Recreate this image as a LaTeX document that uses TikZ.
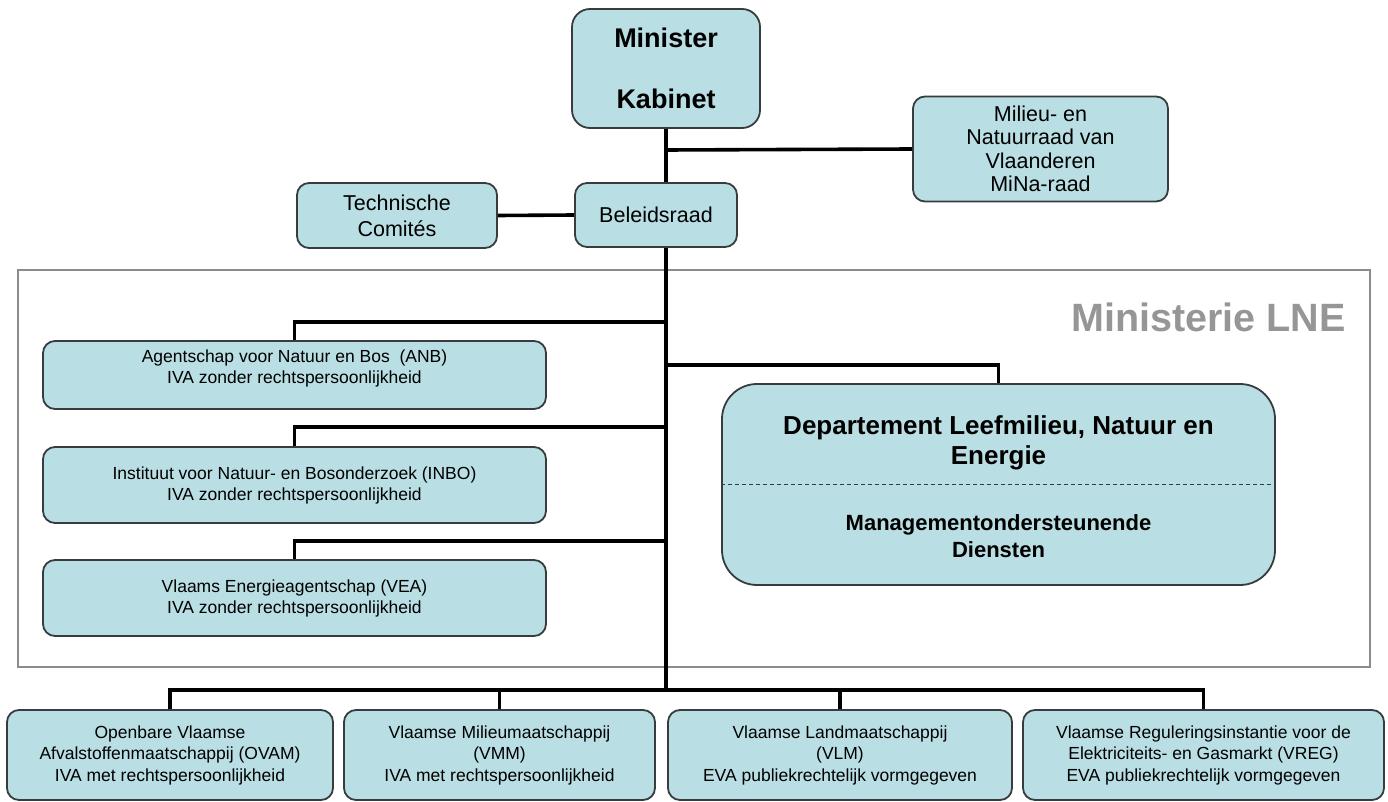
\documentclass[tikz,border=0pt]{standalone}
\usepackage{fontspec}
\setmainfont{Liberation Sans}
\definecolor{boxfill}{RGB}{185,222,227}
\definecolor{boxline}{RGB}{55,60,62}
\definecolor{framegray}{RGB}{140,140,140}
\definecolor{titlegray}{RGB}{150,150,150}
\tikzset{
  box/.style={draw=boxline, line width=1.8pt, fill=boxfill, rounded corners=12pt, inner sep=0pt, align=center},
  conn/.style={line width=3.6pt, black},
  small/.style={font=\fontsize{17.5}{21}\selectfont},
  bottomtxt/.style={font=\fontsize{17.5}{21.5}\selectfont},
  mid/.style={font=\fontsize{21.5}{26}\selectfont},
  plain/.style={align=center, inner sep=0pt}
}
\begin{document}
\begin{tikzpicture}[x=1pt,y=-1pt]
\useasboundingbox (0,0) rectangle (1388,802);
% frame
\draw[framegray, line width=2.4pt] (18,270) rectangle (1370,667);
\node[anchor=east, text=titlegray, font=\bfseries\fontsize{39.5}{42}\selectfont, inner sep=0pt] (title) at (1346,317) {Ministerie LNE};

% top
\node[box, rounded corners=18pt, minimum width=188pt, minimum height=119pt, font=\bfseries\fontsize{27}{31}\selectfont] (min) at (666,68.5) {Minister\\[30pt]Kabinet};
\node[box, minimum width=162pt, minimum height=64pt, mid] (bel) at (656,215) {Beleidsraad};
\node[box, minimum width=200pt, minimum height=65pt, mid] (tech) at (397,215.5) {Technische\\Comités};
\node[box, minimum width=255pt, minimum height=105pt, font=\fontsize{21.5}{23.5}\selectfont] (mina) at (1040.5,149) {Milieu- en\\Natuurraad van\\Vlaanderen\\MiNa-raad};

% agencies
\node[box, minimum width=503pt, minimum height=68pt] (anb) at (294.5,375) {};
\node[plain, small] (anbt) at (294.5,368) {Agentschap voor Natuur en Bos\ \ (ANB)\\IVA zonder rechtspersoonlijkheid};
\node[box, minimum width=503pt, minimum height=76pt, small] (inbo) at (294.5,485) {Instituut voor Natuur- en Bosonderzoek (INBO)\\IVA zonder rechtspersoonlijkheid};
\node[box, minimum width=503pt, minimum height=76pt, small] (vea) at (294.5,598) {Vlaams Energieagentschap (VEA)\\IVA zonder rechtspersoonlijkheid};

% department
\node[box, rounded corners=35pt, minimum width=553pt, minimum height=201pt] (dept) at (998.5,484.5) {};
\draw[boxline, line width=1.5pt, dash pattern=on 4pt off 3pt] (dept.west) -- (dept.east);
\node[plain, font=\bfseries\fontsize{26}{30}\selectfont] (depttop) at (998.5,443) {Departement Leefmilieu, Natuur en\\Energie};
\node[plain, font=\bfseries\fontsize{22}{27}\selectfont] (deptbot) at (998.5,536) {Managementondersteunende\\Diensten};

% bottom
\node[box, minimum width=326pt, minimum height=90pt, bottomtxt] (b1) at (170,755) {Openbare Vlaamse\\Afvalstoffenmaatschappij (OVAM)\\IVA met rechtspersoonlijkheid};
\node[box, minimum width=311pt, minimum height=90pt, bottomtxt] (b2) at (499.5,755) {Vlaamse Milieumaatschappij\\(VMM)\\IVA met rechtspersoonlijkheid};
\node[box, minimum width=344pt, minimum height=90pt, bottomtxt] (b3) at (840,755) {Vlaamse Landmaatschappij\\(VLM)\\EVA publiekrechtelijk vormgegeven};
\node[box, minimum width=361pt, minimum height=90pt, bottomtxt] (b4) at (1203.5,755) {Vlaamse Reguleringsinstantie voor de\\Elektriciteits- en Gasmarkt (VREG)\\EVA publiekrechtelijk vormgegeven};

% junctions
\coordinate (jmina) at (666,150);
\coordinate (janb) at (666,322);
\coordinate (jdept) at (666,365);
\coordinate (jinbo) at (666,427);
\coordinate (jvea) at (666,541);
\coordinate (bus) at (666,690);
\coordinate (busL) at (170,690);
\coordinate (busR) at (1203.5,690);

% connectors
\draw[conn] (min.south) -- (min.south |- bel.north);
\draw[conn] (jmina) -- (mina.west);
\draw[conn] (tech.east) -- (bel.west);
\draw[conn] (min.south |- bel.south) -- (bus);
\draw[conn] (janb) -| (anb.north);
\draw[conn] (jinbo) -| (inbo.north);
\draw[conn] (jvea) -| (vea.north);
\draw[conn] (jdept) -| (dept.north);
\draw[conn] (b1.north) -- (busL) -- (busR) -- (b4.north);
\draw[conn] (b2.north) -- (b2.north |- bus);
\draw[conn] (b3.north) -- (b3.north |- bus);
\end{tikzpicture}
\end{document}
